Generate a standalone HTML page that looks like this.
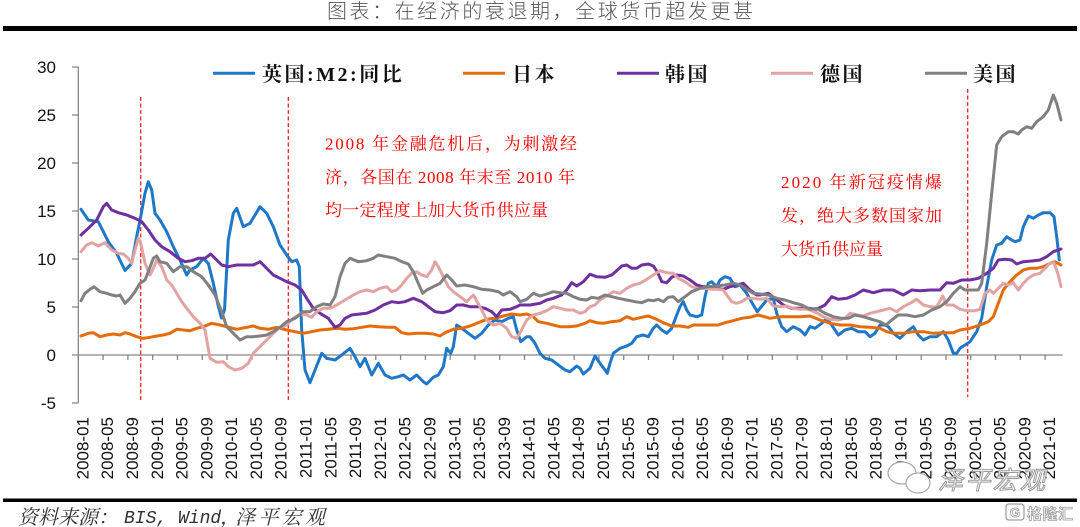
<!DOCTYPE html>
<html><head><meta charset="utf-8">
<style>
html,body{margin:0;padding:0;background:#fff;}
svg{display:block;}
.yl{font-family:"Liberation Sans",sans-serif;font-size:17px;fill:#111;text-anchor:end;}
.xl{font-family:"Liberation Sans",sans-serif;font-size:17px;fill:#111;text-anchor:end;}
.lg{font-family:"Liberation Serif","Noto Serif CJK SC",serif;font-size:20px;font-weight:bold;fill:#111;letter-spacing:2.5px;}
.an{font-family:"Liberation Serif","Noto Serif CJK SC",serif;font-size:17px;fill:#ff0000;}
.s{fill:none;stroke-width:3;stroke-linejoin:round;stroke-linecap:round;}
</style></head>
<body>
<svg width="1080" height="527" viewBox="0 0 1080 527" xmlns="http://www.w3.org/2000/svg">
<rect x="0" y="0" width="1080" height="527" fill="#fff"/>
<!-- title -->
<text x="327" y="18" textLength="426" lengthAdjust="spacing" style="font-family:'Liberation Sans','Noto Sans CJK SC',sans-serif;font-size:20px;font-weight:300;fill:#555;">图表：在经济的衰退期，全球货币超发更甚</text>
<rect x="3" y="26" width="1074" height="5" fill="#000"/>

<!-- axes -->
<g stroke="#868686" stroke-width="1.3" fill="none">
<line x1="78.3" y1="67" x2="78.3" y2="403"/>
<path d="M72 67H78.3M72 115H78.3M72 163H78.3M72 211H78.3M72 259H78.3M72 307H78.3M72 355H78.3M72 403H78.3"/>
<line x1="78.3" y1="355" x2="1062.5" y2="355"/>
<path d="M78.3 355V360M103.1 355V360M127.9 355V360M152.7 355V360M177.5 355V360M202.3 355V360M227 355V360M251.8 355V360M276.6 355V360M301.4 355V360M326.2 355V360M351 355V360M375.8 355V360M400.6 355V360M425.4 355V360M450.2 355V360M474.9 355V360M499.7 355V360M524.5 355V360M549.3 355V360M574.1 355V360M598.9 355V360M623.7 355V360M648.5 355V360M673.3 355V360M698.1 355V360M722.8 355V360M747.6 355V360M772.4 355V360M797.2 355V360M822 355V360M846.8 355V360M871.6 355V360M896.4 355V360M921.2 355V360M946 355V360M970.7 355V360M995.5 355V360M1020.3 355V360M1045.1 355V360"/>
</g>
<text class="yl" x="56" y="73">30</text>
<text class="yl" x="56" y="121">25</text>
<text class="yl" x="56" y="169">20</text>
<text class="yl" x="56" y="217">15</text>
<text class="yl" x="56" y="265">10</text>
<text class="yl" x="56" y="313">5</text>
<text class="yl" x="56" y="361">0</text>
<text class="yl" x="56" y="409">-5</text>

<!-- x labels -->
<g class="xl">
<text transform="translate(88.4,417) rotate(-90)">2008-01</text>
<text transform="translate(113.2,417) rotate(-90)">2008-05</text>
<text transform="translate(138,417) rotate(-90)">2008-09</text>
<text transform="translate(162.8,417) rotate(-90)">2009-01</text>
<text transform="translate(187.6,417) rotate(-90)">2009-05</text>
<text transform="translate(212.4,417) rotate(-90)">2009-09</text>
<text transform="translate(237.1,417) rotate(-90)">2010-01</text>
<text transform="translate(261.9,417) rotate(-90)">2010-05</text>
<text transform="translate(286.7,417) rotate(-90)">2010-09</text>
<text transform="translate(311.5,417) rotate(-90)">2011-01</text>
<text transform="translate(336.3,417) rotate(-90)">2011-05</text>
<text transform="translate(361.1,417) rotate(-90)">2011-09</text>
<text transform="translate(385.9,417) rotate(-90)">2012-01</text>
<text transform="translate(410.7,417) rotate(-90)">2012-05</text>
<text transform="translate(435.5,417) rotate(-90)">2012-09</text>
<text transform="translate(460.3,417) rotate(-90)">2013-01</text>
<text transform="translate(485,417) rotate(-90)">2013-05</text>
<text transform="translate(509.8,417) rotate(-90)">2013-09</text>
<text transform="translate(534.6,417) rotate(-90)">2014-01</text>
<text transform="translate(559.4,417) rotate(-90)">2014-05</text>
<text transform="translate(584.2,417) rotate(-90)">2014-09</text>
<text transform="translate(609,417) rotate(-90)">2015-01</text>
<text transform="translate(633.8,417) rotate(-90)">2015-05</text>
<text transform="translate(658.6,417) rotate(-90)">2015-09</text>
<text transform="translate(683.4,417) rotate(-90)">2016-01</text>
<text transform="translate(708.2,417) rotate(-90)">2016-05</text>
<text transform="translate(732.9,417) rotate(-90)">2016-09</text>
<text transform="translate(757.7,417) rotate(-90)">2017-01</text>
<text transform="translate(782.5,417) rotate(-90)">2017-05</text>
<text transform="translate(807.3,417) rotate(-90)">2017-09</text>
<text transform="translate(832.1,417) rotate(-90)">2018-01</text>
<text transform="translate(856.9,417) rotate(-90)">2018-05</text>
<text transform="translate(881.7,417) rotate(-90)">2018-09</text>
<text transform="translate(906.5,417) rotate(-90)">2019-01</text>
<text transform="translate(931.3,417) rotate(-90)">2019-05</text>
<text transform="translate(956.1,417) rotate(-90)">2019-09</text>
<text transform="translate(980.8,417) rotate(-90)">2020-01</text>
<text transform="translate(1005.6,417) rotate(-90)">2020-05</text>
<text transform="translate(1030.4,417) rotate(-90)">2020-09</text>
<text transform="translate(1055.2,417) rotate(-90)">2021-01</text>
</g>

<!-- red dashed lines -->
<g stroke="#ff2020" stroke-width="1.3" stroke-dasharray="4 2.5">
<line x1="140.7" y1="97" x2="140.7" y2="402"/>
<line x1="288.3" y1="97" x2="288.3" y2="402"/>
<line x1="967.7" y1="89" x2="967.7" y2="397"/>
</g>

<!-- series -->
<polyline class="s" stroke="#1f77c8" points="81,209.3 88.3,220 98.3,221.7 108.3,241.7 116.7,253.3 125,270.5 131.7,263.3 136.7,236.7 140.7,216.7 145,193.3 148.3,181.7 151.7,190 155,213.3 160,220 166.7,231.7 173.3,246.7 180,260 186.7,275 190,270 196.7,266.7 203.3,258.3 208.3,263.3 213.3,283.3 218,305 221.5,318 224.5,310 228.3,240 233.3,213.3 236.7,208.3 243.3,226.7 250,223.3 260,206.7 266.7,213.3 273.3,226.7 280,245 286.7,255 291.7,261.7 296.7,260 299.3,266.7 301.7,330 305,370 310,382.7 315,370 321.7,353.3 326.7,358.3 335,360 341.7,355 350,348.3 355,356.7 360,366.7 365,358.3 371.7,375 378.3,363.3 385,375 391.7,378.3 398.3,376.7 403.3,375 410,380 416.7,375 423.3,381.7 426.7,384 433.3,377.3 438.3,375 443.3,366.7 446.7,348.3 450.7,353.3 453.3,346.7 456.7,325 461.7,328.3 468.3,333.3 475,338.3 481.7,333.3 488.3,325 495,320 501.7,321.7 508.3,318.3 513.3,316.7 516.7,330 520.7,341.7 526.7,336.7 530,336.7 535,343.3 540,353.3 545,358.3 551.7,360 558.3,365 565,370 570,371.7 576.7,366 580,368.3 583.3,374 590,368.3 595,356 600,363.3 605,370 607.3,373.3 610,363.3 613.3,353.3 620,348.3 626.7,346 631.7,343.3 636.7,336.7 643.3,335 648.3,336.7 653.3,328.3 656.7,325 661.7,330 666.7,333.3 671.7,328.3 676.7,315 680,306.7 683.3,301.7 686.7,310 690,315 696.7,316.7 701.7,315 705,296.7 708.3,283.3 711.7,281.7 716.7,286.7 720,280 725,276.7 730,278.3 735,286.7 740,285 746.7,293.3 753.3,305 757.3,311.7 760,308.3 766.7,300 773.3,298.3 776.7,313.3 781.7,326.7 786.7,331.7 793.3,326.7 800,330 805,335 810,326.7 815,328.3 821.7,323.3 826.7,318.3 831.7,325 838.3,335 845,330 851.7,328.3 858.3,331.7 865,331.7 870,336.7 875,333.3 880,325 885,325 888.3,326.7 893.3,333.3 900,338.3 906.7,331.7 913.3,326.7 918.3,335 923.3,340 930,336.7 936.7,336.7 943.3,331.7 948.3,340 953.3,353.3 956.7,353.3 960,348.3 965,345 970,341.7 976.7,331.7 981.7,318.3 986.7,286.7 991.7,260 996.7,245 1001.7,243.3 1006.7,236.7 1011.7,240 1015,241.7 1020,240 1023.3,226.7 1028.3,216 1033.3,218.3 1038.3,215 1043.3,212.7 1050,212.7 1054,216.7 1056.7,236.7 1059.3,260"/>
<polyline class="s" stroke="#e46c0a" points="81,336 88.3,333.3 93.3,332.7 100,336.7 106.7,335 113.3,334 120,335 125,332.7 130,334 136.7,336.7 143.3,338.3 150,337.3 156.7,336 163.3,335 170,333.3 176.7,329.3 183.3,330 190,330.7 196.7,328.3 203.3,326.7 211.7,323.3 220,325 226.7,326.7 236.7,329.3 246.7,327.3 253.3,326 260,328.3 268.3,329.3 276.7,327.3 286.7,330 295,331.7 303.3,333.3 311.7,331.7 320,330 328.3,329.3 336.7,328.3 345,329.3 353.3,328.7 361.7,327.3 370,326 378.3,326.7 386.7,327.3 395,327.3 401.7,332.7 408.3,334 416.7,333.3 425,333.3 433.3,334 440,336 445,332.7 453.3,329.3 461.7,328.3 470,326 478.3,322.7 486.7,319.3 495,318.3 503.3,316 511.7,314 520,315 526.7,314 533.3,316.7 538.3,321.7 546.7,323.3 553.3,325 560,326.7 568.3,326.7 576.7,326 585,323.3 590,320.7 596.7,322.7 603.3,323.3 611.7,321.7 620,320.7 626.7,316.7 633.3,319.3 641.7,317.3 648.3,316 656.7,319.3 663.3,322.7 671.7,326 680,326 688.3,327.3 693.3,325 701.7,325 710,325 718.3,325 725,322.7 733.3,320.7 741.7,318.3 750,317.3 758.3,315 770,318.3 780,316.7 790,316.7 800,316.7 810,316 820,320 830,323.3 840,325 850,325 860,326.7 870,327.3 880,328.3 886.7,331.7 893.3,333.3 903.3,333.3 913.3,331.7 923.3,331.7 933.3,333.3 943.3,332.7 953.3,332.7 960,330 970,328.3 980,325 988.3,321.7 993.3,316.7 998.3,303.3 1003.3,290 1010,281.7 1016.7,275 1023.3,270 1030,268.3 1036.7,268.3 1043.3,266.7 1050,263.3 1055,261.7 1061,265"/>
<polyline class="s" stroke="#7030a0" points="81,235 88.3,228.3 96.7,220 103.3,206.7 106.7,203.3 111.7,210 118.3,212.7 126.7,215 135,218.3 141.7,221.7 148.3,230 155,240 161.7,246.7 170,251.7 178.3,258.3 185,261.7 191.7,260.7 198.3,258.3 205,258.3 210.7,254 215,258.3 221.7,265 228.3,266.7 236.7,265 246.7,265 253.3,265 260,261.7 266.7,268.3 273.3,275 280,278.3 286.7,281.7 295,285 301.7,290 306.7,298.3 313.3,308.3 320,313.3 328.3,318.3 335,327.3 340,325 345,318.3 351.7,315 360,314 366.7,313.3 375,310 383.3,305 391.7,301.7 398.3,302.7 405,301.7 413.3,298.3 421.7,301.7 428.3,306.7 435,311.7 443.3,312.7 450,310.7 456.7,305 463.3,305 470,306.7 478.3,306.7 485,308.3 491.7,311.7 496.7,316.7 501.7,310 510,309.3 516.7,306.7 520,305 530,305 540,303.3 546.7,300 553.3,298.3 561.7,295 566.7,290 571.7,282.7 576.7,286 583.3,281.7 590,274.3 596.7,276.7 605,277.3 611.7,275 616.7,270.7 621.7,266 626.7,265 631.7,268.3 636.7,268.3 641.7,265 648.3,264 653.3,266 657.3,271.7 661.7,281.7 666.7,282.7 671.7,277.3 676.7,275 683.3,276 690,280 696.7,285 703.3,286.7 710,286.7 716.7,288.3 723.3,289.3 730,286.7 736.7,285 743.3,283.3 750,290 756.7,295 760,295 768.3,293.3 775,298.3 783.3,305 791.7,308.3 800,308.3 808.3,308.3 816.7,309.3 825,305 831.7,296.7 838.3,299.3 846.7,298.3 855,295 863.3,290 873.3,292.7 883.3,290 893.3,290 903.3,295 911.7,290 920,290.7 930,290 940,290 946.7,282.7 953.3,283.3 961.7,280 970,280 978.3,278.3 986.7,273.3 993.3,268.3 998.3,260 1005,259.3 1011.7,260 1016.7,264 1023.3,261.7 1031.7,261 1040,260 1046.7,256.7 1053.3,251.7 1061,249"/>
<polyline class="s" stroke="#e2a3a3" points="81,251.7 86.7,245 91.7,242.7 98.3,246 105,242.7 111.7,250 118.3,253.3 123.3,254 128.3,258.3 131.7,263.3 135,250 138.3,238.3 140.7,243.3 145,263.3 150,275 153.3,268.3 156.7,260 161.7,266.7 166.7,280 171.7,285 176.7,293.3 181.7,301.7 186.7,308.3 193.3,316.7 200,323.3 205,330 210,358.3 216.7,362.3 223.3,361.7 228.3,366.7 235,370 241.7,368.3 248.3,363.3 253.3,353.3 258.3,348.3 265,341.7 271.7,335 278.3,328.3 286.7,325 293.3,318.3 300,314 306.7,315 311.7,317.3 316.7,311.7 323.3,308.3 330,308.3 336.7,305 345,300 353.3,295 360,291.7 366.7,290 373.3,291.7 380,288.3 386.7,286.7 391.7,291.7 396.7,290 401.7,285 406.7,278.3 411.7,273.3 416.7,271.7 421.7,275 426.7,276.7 431.7,270 435,261.7 438.3,266.7 443.3,276.7 448.3,286.7 453.3,291.7 460,296.7 466.7,301.7 473.3,295 480,306.7 486.7,320 493.3,325 500,323.3 506.7,328.3 511.7,336.7 516.7,338.3 520,333 526.7,320 533.3,315 540,313.3 546.7,310.7 553.3,306.7 560,308.3 566.7,310 573.3,310 580,313.3 585,311.7 590,306.7 595,305 600,300 606.7,296 613.3,291.7 620,293.3 626.7,288.3 633.3,285 640,283.3 646.7,279.3 653.3,275 660,270.7 666.7,272.7 673.3,273.3 678.3,278.3 685,281.7 691.7,286.7 698.3,288.3 705,288.3 711.7,289.3 718.3,289.3 723.3,290 726.7,295 731.7,301.7 736.7,303.3 741.7,301.7 746.7,298.3 753.3,298.3 760,299.3 766.7,298.3 773.3,306 780,306.7 786.7,306 793.3,308.3 800,309.3 808.3,309.3 816.7,312.7 823.3,316.7 830,319.3 838.3,320 845,318.3 850,313.3 856.7,315 863.3,316 870,313.3 876.7,311.7 883.3,310 890,308.3 896.7,311.7 903.3,306.7 910,303.3 916.7,299.3 923.3,305 930,306.7 936.7,306.7 942.7,296 946.7,305 953.3,305 960,309.3 966.7,310.7 975,310.7 980,309.3 985,293.3 990,290 993.3,293.3 998.3,288.3 1003.3,283.3 1008.3,285 1013.3,282.7 1018.3,290 1023.3,283.3 1028.3,278.3 1033.3,275 1040,273.3 1045,268.3 1050,263.3 1054,262.7 1058.3,275 1061,286.7"/>
<polyline class="s" stroke="#808080" points="81,300.7 85,293.3 90,289.3 94,286.7 100,291.7 106.7,293.3 111.7,295 116.7,296 120,295 125,303.3 130,298.3 135,291.7 140,283.3 145,280 148.3,271.7 153.3,258.3 156.7,256 160,261.7 166.7,263.3 173.3,271.7 180,266.7 186.7,266.7 193.3,271.7 201.7,276.7 208.3,285 215,295 221.7,311.7 226.7,326.7 233.3,333.3 240,340 246.7,336.7 253.3,336.7 260,336 266.7,335 273.3,331.7 280,327.3 286.7,321.7 295,318.3 303.3,311.7 310,311.7 316.7,306.7 323.3,304 330,305 335,296.7 340,276.7 345,263.3 350,258.3 358.3,261.7 366.7,260.7 373.3,258.3 378.3,255 386.7,256.7 395,258.3 401.7,261.7 408.3,264 413.3,271.7 418.3,283.3 422.7,293.3 426.7,290 433.3,286.7 440,283.3 446.7,275 451.7,280 456.7,286 465,285 473.3,286.7 481.7,289.3 490,290 498.3,291.7 503.3,295 510,291.7 516.7,296.7 520,301.7 526.7,299.3 533.3,293.3 540,296 546.7,294 553.3,291.7 560,292.7 566.7,293.3 573.3,296.7 580,299.3 586.7,300 591.7,297.3 598.3,298.3 605,295 611.7,296.7 618.3,298.3 626.7,300 635,301.7 641.7,302.7 648.3,300 653.3,300.7 658.3,299.3 663.3,301.7 668.3,297.3 673.3,296.7 678.3,301.7 685,296.7 691.7,291.7 700,288.3 708.3,286.7 716.7,286 725,285 733.3,283.3 740,285 746.7,289.3 753.3,293.3 760,294 768.3,295 776.7,298.3 785,300 793.3,302.7 801.7,305 810,309.3 816.7,308.3 825,313.3 833.3,316.7 841.7,318.3 848.3,318.3 855,315 863.3,316.7 871.7,319.3 880,321.7 886,325 891.7,320 898.3,315 906.7,315 915,316.7 923.3,315 931.7,310 940,306.7 946.7,301.7 953.3,293.3 960,286.7 965,290 970,290 978.3,290 981.7,283.3 986.7,243.3 991.7,193.3 996.7,145 1001.7,136.7 1008.3,131.7 1013.3,131.7 1018.3,134 1021.7,130 1026.7,126.7 1031.7,128.3 1036.7,121.7 1043.3,116.7 1048.3,110 1053.3,95 1056.7,103.3 1061,120"/>

<!-- legend -->
<g stroke-width="3">
<line x1="213" y1="73.3" x2="255" y2="73.3" stroke="#1f77c8"/>
<line x1="463" y1="73.3" x2="505" y2="73.3" stroke="#e46c0a"/>
<line x1="617" y1="73.3" x2="659" y2="73.3" stroke="#7030a0"/>
<line x1="771" y1="73.3" x2="813" y2="73.3" stroke="#e2a3a3"/>
<line x1="925" y1="73.3" x2="967" y2="73.3" stroke="#808080"/>
</g>
<text class="lg" x="262" y="81">英国:M2:同比</text>
<text class="lg" x="512" y="81">日本</text>
<text class="lg" x="665" y="81">韩国</text>
<text class="lg" x="820" y="81">德国</text>
<text class="lg" x="973" y="81">美国</text>

<!-- annotations -->
<text class="an" x="325" y="149.5" textLength="252" lengthAdjust="spacing">2008 年金融危机后，为刺激经</text>
<text class="an" x="325" y="183" textLength="250" lengthAdjust="spacing">济，各国在 2008 年末至 2010 年</text>
<text class="an" x="325" y="216" textLength="223" lengthAdjust="spacing">均一定程度上加大货币供应量</text>
<text class="an" x="781" y="188" textLength="161" lengthAdjust="spacing">2020 年新冠疫情爆</text>
<text class="an" x="781" y="221.5" textLength="161" lengthAdjust="spacing">发，绝大多数国家加</text>
<text class="an" x="781" y="255" textLength="102" lengthAdjust="spacing">大货币供应量</text>

<!-- watermark -->
<g fill="#fff" stroke="#a8a8a8" stroke-width="1.2">
<ellipse cx="902" cy="473" rx="14" ry="11"/>
<ellipse cx="918" cy="483" rx="12" ry="10"/>
</g>
<text x="938" y="489" textLength="107" lengthAdjust="spacing" style="font-family:'Liberation Sans','Noto Sans CJK SC',sans-serif;font-size:25px;font-style:italic;fill:#fff;stroke:#9a9a9a;stroke-width:1;">泽平宏观</text>

<!-- bottom -->
<rect x="3" y="498.5" width="1074" height="3.5" fill="#000"/>
<text x="18" y="524" style="font-family:'Liberation Serif','Noto Serif CJK SC',serif;font-size:20px;font-style:italic;fill:#333;">资料来源：</text>
<text x="124" y="523" style="font-family:'Liberation Mono',monospace;font-size:18px;font-style:italic;fill:#333;">BIS, Wind</text>
<text x="220" y="524" style="font-family:'Liberation Serif','Noto Serif CJK SC',serif;font-size:20px;font-style:italic;fill:#333;">，</text>
<text x="235" y="524" textLength="90" lengthAdjust="spacing" style="font-family:'Liberation Serif','Noto Serif CJK SC',serif;font-size:20px;font-style:italic;fill:#333;">泽平宏观</text>

<rect x="1006" y="504" width="18" height="16" rx="3" fill="#fff" stroke="#a0a0a0" stroke-width="1.3"/>
<text x="1010" y="517" style="font-family:'Liberation Sans',sans-serif;font-size:13px;font-weight:bold;fill:#fff;stroke:#a0a0a0;stroke-width:0.8;">G</text>
<text x="1027" y="519" textLength="46" lengthAdjust="spacing" style="font-family:'Liberation Sans','Noto Sans CJK SC',sans-serif;font-size:15px;font-weight:bold;fill:#fff;stroke:#a0a0a0;stroke-width:0.8;">格隆汇</text>
</svg>
</body></html>
